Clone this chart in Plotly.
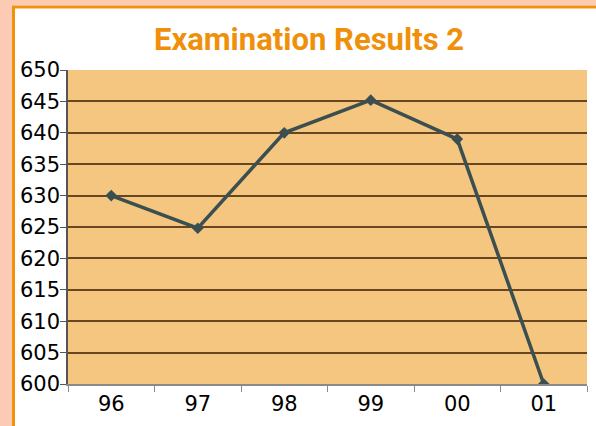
import plotly.graph_objects as go

# Exam results by year
years = ["96", "97", "98", "99", "00", "01"]
results = [630, 624.8, 640, 645.2, 639, 600]
y_ticks = [600, 605, 610, 615, 620, 625, 630, 635, 640, 645, 650]

W, H = 596, 426
L, R, T, B = 68, 9, 70, 42
pw, ph = W - L - R, H - T - B


def px_x(p):
    return (p - L) / pw


def px_y(p):
    return 1 - (p - T) / ph


fig = go.Figure()
fig.add_trace(go.Scatter(
    x=years, y=results, mode="lines+markers",
    line=dict(color="#3b4f50", width=3.5),
    marker=dict(symbol="diamond", size=9, color="#3b4f50"),
    showlegend=False, hoverinfo="skip",
))

peach = "#fdcbb3"
frame = "#f0920e"
# peach margins at the left and top edges
fig.add_shape(type="rect", xref="paper", yref="paper", layer="below",
              x0=px_x(-5), x1=px_x(12.5), y0=px_y(-5), y1=px_y(H + 5),
              line=dict(width=0), fillcolor=peach)
fig.add_shape(type="rect", xref="paper", yref="paper", layer="below",
              x0=px_x(-5), x1=px_x(W + 5), y0=px_y(-5), y1=px_y(5.5),
              line=dict(width=0), fillcolor=peach)
# orange frame lines
fig.add_shape(type="line", xref="paper", yref="paper", layer="below",
              x0=px_x(13.5), x1=px_x(13.5), y0=px_y(6), y1=px_y(H + 5),
              line=dict(color=frame, width=3))
fig.add_shape(type="line", xref="paper", yref="paper", layer="below",
              x0=px_x(12), x1=px_x(W + 5), y0=px_y(7), y1=px_y(7),
              line=dict(color=frame, width=3))

fig.update_layout(
    width=W, height=H,
    margin=dict(l=L, r=R, t=T, b=B),
    paper_bgcolor="white",
    plot_bgcolor="#f5c67f",
    title=dict(text="<b>Examination Results 2</b>", x=px_x(309), xref="paper",
               xanchor="center", y=(H - 39) / H, yanchor="middle",
               font=dict(family="Roboto", size=31, color="#f0900a")),
    xaxis=dict(
        type="category", range=[-0.5, 5.5],
        tickson="boundaries", ticks="outside", ticklen=6, tickcolor="#8a8a8a",
        showgrid=False, showline=True, linecolor="#8a8a8a", linewidth=1.5,
        tickfont=dict(family="DejaVu Sans", size=21, color="black"),
        zeroline=False,
    ),
    yaxis=dict(
        range=[600, 650], tickvals=y_ticks,
        ticks="outside", ticklen=6, tickcolor="#555555",
        showline=True, linecolor="#555555", linewidth=1.5,
        gridcolor="#684620", gridwidth=1.5,
        tickfont=dict(family="DejaVu Sans", size=21, color="black"),
        zeroline=False, ticklabelstandoff=-4,
    ),
)

fig.write_html("out.html")
